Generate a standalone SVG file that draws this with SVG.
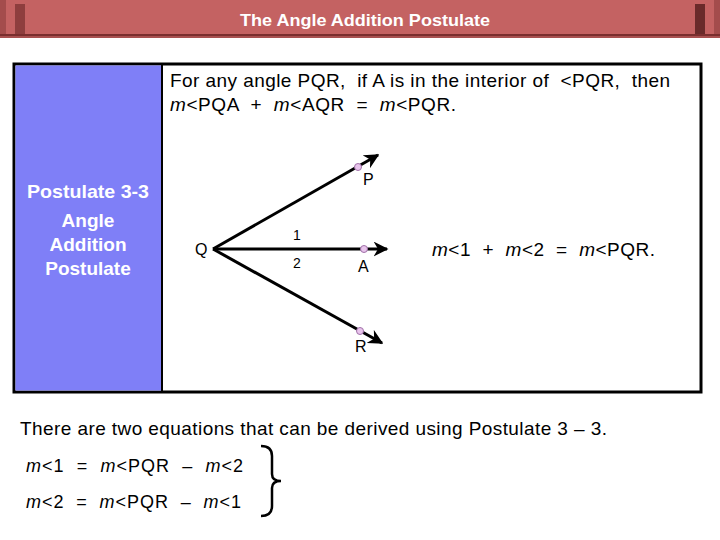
<svg xmlns="http://www.w3.org/2000/svg" width="720" height="540" viewBox="0 0 720 540" xml:space="preserve">
<style>
.t{font-family:"Liberation Sans",Arial,sans-serif;fill:#000;white-space:pre}
.w{font-family:"Liberation Sans",Arial,sans-serif;fill:#fff;font-weight:bold;text-anchor:middle}
.ray{stroke:#000;stroke-width:3;fill:none}
.pt{fill:#e8c4ec;stroke:#a070a8;stroke-width:1}
</style>
<defs>
<marker id="ah" viewBox="0 0 10 10" refX="9" refY="5" markerWidth="5" markerHeight="5" orient="auto" markerUnits="strokeWidth">
<path d="M0,0 L10,5 L0,10 L3,5 Z" fill="#000"/>
</marker>
</defs>
<rect width="720" height="540" fill="#fff"/>
<g id="title">
<rect x="0" y="0" width="720" height="38" fill="#c46262"/>
<rect x="0" y="0" width="6" height="38" fill="#a44c4c"/>
<rect x="714" y="0" width="6" height="38" fill="#a44c4c"/>
<rect x="15" y="4" width="10" height="31" fill="#8e3e3e"/>
<rect x="695" y="4" width="10" height="31" fill="#6a2a2a"/>
<rect x="0" y="34" width="720" height="2" fill="#7a2e2e"/>
<rect x="0" y="36" width="720" height="2" fill="#a85050"/>
<text class="w" x="365" y="26" font-size="17" textLength="250" lengthAdjust="spacingAndGlyphs">The Angle Addition Postulate</text>
</g>
<g id="box">
<rect x="14" y="64" width="687" height="328" fill="#fff" stroke="#000" stroke-width="3"/>
<rect x="15.5" y="65.5" width="146" height="325" fill="#7f7ff7"/>
<line x1="162" y1="64" x2="162" y2="392" stroke="#000" stroke-width="2"/>
<text class="w" x="88" y="198" font-size="19" textLength="122" lengthAdjust="spacingAndGlyphs">Postulate 3-3</text>
<text class="w" x="88" y="227" font-size="19">Angle</text>
<text class="w" x="88" y="251" font-size="19">Addition</text>
<text class="w" x="88" y="275" font-size="19">Postulate</text>
</g>
<g id="statement">
<text class="t" x="170" y="87" font-size="19" textLength="500">For any angle PQR,  if A is in the interior of  &lt;PQR,  then</text>
<text class="t" x="170" y="111" font-size="19" textLength="286"><tspan font-style="italic">m</tspan>&lt;PQA  +  <tspan font-style="italic">m</tspan>&lt;AQR  =  <tspan font-style="italic">m</tspan>&lt;PQR.</text>
</g>
<g id="connectors">
<line class="ray" x1="213" y1="249" x2="378" y2="155" marker-end="url(#ah)"/>
<line class="ray" x1="213" y1="249" x2="387" y2="249" marker-end="url(#ah)"/>
<line class="ray" x1="213" y1="249" x2="382" y2="343" marker-end="url(#ah)"/>
</g>
<g id="Q"><text class="t" x="195" y="255" font-size="16">Q</text></g>
<g id="P"><circle class="pt" cx="358" cy="167" r="3.5"/><text class="t" x="363" y="185" font-size="16">P</text></g>
<g id="A"><circle class="pt" cx="364" cy="249" r="3.5"/><text class="t" x="358" y="272" font-size="16">A</text></g>
<g id="R"><circle class="pt" cx="360" cy="331" r="3.5"/><text class="t" x="355" y="352" font-size="16">R</text></g>
<g id="labels">
<text class="t" x="293" y="240" font-size="14">1</text>
<text class="t" x="293" y="268" font-size="14">2</text>
<text class="t" x="432" y="256" font-size="19" textLength="223"><tspan font-style="italic">m</tspan>&lt;1  +  <tspan font-style="italic">m</tspan>&lt;2  =  <tspan font-style="italic">m</tspan>&lt;PQR.</text>
</g>
<g id="bottom">
<text class="t" x="20" y="435" font-size="19" textLength="587">There are two equations that can be derived using Postulate 3 – 3.</text>
<text class="t" x="26" y="472" font-size="18" textLength="217"><tspan font-style="italic">m</tspan>&lt;1  =  <tspan font-style="italic">m</tspan>&lt;PQR  –  <tspan font-style="italic">m</tspan>&lt;2</text>
<text class="t" x="26" y="508" font-size="18" textLength="215"><tspan font-style="italic">m</tspan>&lt;2  =  <tspan font-style="italic">m</tspan>&lt;PQR  –  <tspan font-style="italic">m</tspan>&lt;1</text>
<path d="M261,446 Q272,446 272,456 L272,474 Q272,481 281,481 Q272,481 272,488 L272,506 Q272,516 261,516" fill="none" stroke="#000" stroke-width="2.5"/>
</g>
</svg>
